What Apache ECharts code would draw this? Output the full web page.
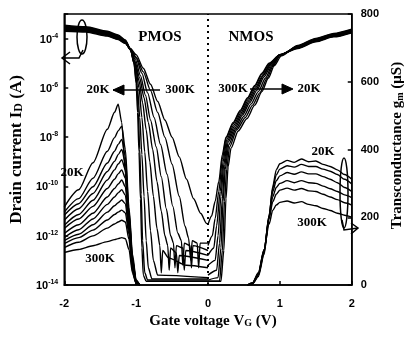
<!DOCTYPE html>
<html><head><meta charset="utf-8">
<script src="https://cdn.jsdelivr.net/npm/echarts@6/dist/echarts.min.js"></script>
<style>html,body{margin:0;padding:0;background:#fff}#main{width:413px;height:337px}</style>
</head><body><div id="main"></div>
<script>
// ---- axis ticks ----
const xTicks = [-2, -1, 0, 1, 2];
const idExpTicks = [-14, -12, -10, -8, -6, -4];   // log10(Id) tick exponents
const gmTicks = [0, 200, 400, 600, 800];

// ---- PMOS drain current, [Vg, log10(Id/A)], 20K ... 300K ----
const pmosId = [
 [[-2,-3.45],[-1.7,-3.52],[-1.4,-3.7],[-1.25,-3.85],[-1.15,-4.05],[-1.08,-4.4],[-1.03,-5.0],[-1.0,-5.8],[-0.98,-7.0],[-0.96,-8.6],[-0.94,-10.5],[-0.92,-12.5],[-0.9,-13.6],[-0.86,-13.85],[0,-13.85]],
 [[-2,-3.48],[-1.7,-3.55],[-1.4,-3.73],[-1.25,-3.88],[-1.15,-4.08],[-1.08,-4.42],[-1.03,-5.0],[-0.99,-5.9],[-0.97,-7.0],[-0.95,-8.5],[-0.93,-10.3],[-0.91,-12.2],[-0.88,-13.5],[-0.84,-13.8],[0,-13.8]],
 [[-2,-3.5],[-1.7,-3.57],[-1.4,-3.75],[-1.25,-3.9],[-1.15,-4.1],[-1.08,-4.43],[-1.02,-5.05],[-0.98,-6.0],[-0.95,-7.2],[-0.92,-8.7],[-0.89,-10.4],[-0.86,-12.2],[-0.83,-13.3],[-0.78,-13.75],[0,-13.75]],
 [[-2,-3.53],[-1.7,-3.6],[-1.4,-3.77],[-1.25,-3.92],[-1.15,-4.12],[-1.08,-4.45],[-1.01,-5.1],[-0.96,-6.0],[-0.92,-7.2],[-0.88,-8.6],[-0.84,-10.2],[-0.8,-11.8],[-0.76,-13.0],[-0.7,-13.6],[0,-13.7]],
 [[-2,-3.55],[-1.7,-3.62],[-1.4,-3.79],[-1.25,-3.94],[-1.15,-4.14],[-1.08,-4.45],[-1.02,-4.95],[-0.96,-5.7],[-0.91,-6.6],[-0.86,-7.7],[-0.81,-9.0],[-0.76,-10.4],[-0.71,-11.7],[-0.67,-12.4],[-0.65,-13.5],[-0.63,-12.6],[-0.55,-12.9],[-0.3,-13.2],[0,-13.3]],
 [[-2,-3.58],[-1.7,-3.64],[-1.4,-3.81],[-1.25,-3.96],[-1.15,-4.15],[-1.08,-4.45],[-1.02,-4.9],[-0.95,-5.6],[-0.89,-6.4],[-0.83,-7.4],[-0.77,-8.5],[-0.71,-9.8],[-0.65,-11.0],[-0.6,-12.0],[-0.56,-12.4],[-0.54,-13.4],[-0.52,-12.5],[-0.44,-12.7],[-0.42,-13.5],[-0.4,-12.8],[0,-13.0]],
 [[-2,-3.6],[-1.7,-3.66],[-1.4,-3.83],[-1.25,-3.98],[-1.15,-4.16],[-1.08,-4.44],[-1.01,-4.85],[-0.94,-5.5],[-0.87,-6.3],[-0.8,-7.3],[-0.72,-8.4],[-0.65,-9.6],[-0.58,-10.9],[-0.52,-12.0],[-0.48,-12.3],[-0.46,-13.3],[-0.44,-12.4],[-0.35,-12.5],[-0.33,-13.4],[-0.31,-12.6],[0,-12.8]],
 [[-2,-3.63],[-1.7,-3.68],[-1.4,-3.85],[-1.25,-4.0],[-1.15,-4.17],[-1.08,-4.43],[-1.0,-4.8],[-0.92,-5.4],[-0.84,-6.2],[-0.75,-7.2],[-0.66,-8.3],[-0.57,-9.5],[-0.49,-10.8],[-0.42,-11.9],[-0.37,-12.2],[-0.35,-13.2],[-0.33,-12.3],[-0.25,-12.4],[-0.23,-13.3],[-0.21,-12.4],[0,-12.6]],
 [[-2,-3.66],[-1.7,-3.7],[-1.4,-3.87],[-1.25,-4.02],[-1.15,-4.18],[-1.08,-4.42],[-1.0,-4.75],[-0.9,-5.35],[-0.8,-6.1],[-0.7,-7.0],[-0.6,-8.0],[-0.5,-9.1],[-0.4,-10.4],[-0.32,-11.6],[-0.27,-12.1],[-0.24,-13.0],[-0.22,-12.2],[-0.15,-12.3],[-0.13,-13.3],[-0.11,-12.3],[0,-12.3]],
 [[-2,-3.7],[-1.7,-3.73],[-1.4,-3.9],[-1.25,-4.04],[-1.15,-4.2],[-1.08,-4.4],[-1.0,-4.65],[-0.9,-5.2],[-0.8,-5.85],[-0.7,-6.55],[-0.6,-7.3],[-0.5,-8.0],[-0.4,-8.8],[-0.3,-9.7],[-0.2,-10.5],[-0.1,-11.1],[-0.02,-11.5],[0,-11.55]]
];

// ---- NMOS drain current, [Vg, log10(Id/A)], 300K ... 20K ----
const nmosId = [
 [[0,-11.55],[0.05,-11.2],[0.1,-10.6],[0.15,-9.8],[0.2,-8.7],[0.25,-8.0],[0.35,-7.4],[0.45,-6.9],[0.55,-6.4],[0.65,-5.9],[0.75,-5.4],[0.85,-5.0],[1.0,-4.65],[1.25,-4.4],[1.5,-4.13],[1.75,-3.93],[2.0,-3.76]],
 [[0,-12.4],[0.06,-12.0],[0.1,-11.3],[0.15,-10.2],[0.2,-8.9],[0.25,-8.05],[0.35,-7.45],[0.45,-6.95],[0.55,-6.45],[0.65,-5.95],[0.75,-5.45],[0.85,-5.02],[1.0,-4.65],[1.25,-4.38],[1.5,-4.11],[1.75,-3.91],[2.0,-3.74]],
 [[0,-12.8],[0.08,-12.5],[0.12,-11.6],[0.17,-10.2],[0.21,-9.0],[0.26,-8.1],[0.36,-7.5],[0.46,-7.0],[0.56,-6.5],[0.66,-6.0],[0.76,-5.5],[0.86,-5.05],[1.0,-4.65],[1.25,-4.37],[1.5,-4.09],[1.75,-3.89],[2.0,-3.72]],
 [[0,-13.2],[0.1,-13.0],[0.14,-12.0],[0.18,-10.4],[0.22,-9.1],[0.27,-8.15],[0.37,-7.55],[0.47,-7.05],[0.57,-6.55],[0.67,-6.05],[0.77,-5.5],[0.87,-5.05],[1.0,-4.66],[1.25,-4.35],[1.5,-4.07],[1.75,-3.87],[2.0,-3.7]],
 [[0,-13.6],[0.12,-13.4],[0.16,-12.3],[0.2,-10.5],[0.23,-9.2],[0.28,-8.2],[0.38,-7.6],[0.48,-7.1],[0.58,-6.6],[0.68,-6.1],[0.78,-5.55],[0.88,-5.08],[1.0,-4.67],[1.25,-4.33],[1.5,-4.05],[1.75,-3.85],[2.0,-3.68]],
 [[0,-13.8],[0.14,-13.7],[0.18,-12.5],[0.21,-10.6],[0.24,-9.3],[0.29,-8.3],[0.39,-7.65],[0.5,-7.15],[0.6,-6.65],[0.7,-6.15],[0.8,-5.6],[0.89,-5.1],[1.0,-4.68],[1.25,-4.31],[1.5,-4.03],[1.75,-3.83],[2.0,-3.66]],
 [[0,-13.85],[0.16,-13.85],[0.2,-12.6],[0.23,-10.6],[0.26,-9.3],[0.3,-8.4],[0.4,-7.7],[0.52,-7.2],[0.62,-6.7],[0.72,-6.2],[0.82,-5.62],[0.9,-5.12],[1.0,-4.7],[1.25,-4.3],[1.5,-4.01],[1.75,-3.81],[2.0,-3.64]],
 [[0,-13.85],[0.18,-13.85],[0.22,-12.6],[0.25,-10.5],[0.28,-9.2],[0.32,-8.45],[0.42,-7.75],[0.54,-7.25],[0.65,-6.7],[0.75,-6.15],[0.84,-5.6],[0.92,-5.1],[1.02,-4.7],[1.25,-4.28],[1.5,-3.99],[1.75,-3.79],[2.0,-3.62]]
];

// ---- PMOS transconductance (uS), 20K ... 300K ----
const pmosGmV = [-2, -1.8, -1.6, -1.4, -1.3, -1.25, -1.2, -1.15, -1.1, -1.05, -1.0, -0.95];
const pmosGm = [
 [230, 281, 361, 460, 510, 534, 480, 330, 170, 60, 10, 0],
 [215, 255, 315, 395, 435, 455, 469, 400, 230, 90, 15, 0],
 [206, 240, 290, 360, 395, 415, 430, 380, 220, 80, 12, 0],
 [191, 225, 270, 335, 365, 385, 400, 360, 210, 75, 10, 0],
 [176, 208, 250, 310, 340, 357, 370, 340, 200, 70, 10, 0],
 [167, 195, 232, 285, 312, 328, 340, 315, 190, 65, 8, 0],
 [152, 178, 212, 260, 285, 298, 310, 290, 180, 60, 8, 0],
 [140, 163, 195, 238, 260, 272, 281, 265, 170, 55, 7, 0],
 [131, 150, 178, 215, 234, 243, 251, 240, 160, 50, 6, 0],
 [122, 140, 162, 192, 208, 215, 221, 213, 150, 45, 5, 0],
 [110, 126, 145, 168, 180, 186, 191, 186, 135, 40, 5, 0],
 [96, 105, 116, 128, 134, 137, 140, 137, 105, 35, 4, 0]
];

// ---- NMOS transconductance (uS), 20K ... 300K ----
const nmosGmV = [0.55, 0.62, 0.7, 0.78, 0.85, 0.9, 0.95, 1.0, 1.1, 1.2, 1.3, 1.4, 1.5, 1.6, 1.7, 1.8, 1.9, 2.0];
const nmosGm = [
 [0, 3, 25, 90, 200, 290, 340, 358, 368, 362, 372, 364, 366, 356, 350, 340, 326, 312],
 [0, 4, 28, 95, 205, 285, 325, 342, 352, 348, 356, 350, 350, 342, 336, 326, 312, 298],
 [0, 5, 30, 100, 205, 275, 308, 322, 332, 327, 334, 328, 328, 320, 312, 302, 288, 276],
 [0, 5, 32, 102, 200, 260, 288, 300, 308, 302, 308, 302, 300, 292, 284, 276, 266, 258],
 [0, 6, 34, 104, 195, 245, 268, 280, 286, 280, 285, 278, 276, 268, 260, 252, 243, 236],
 [0, 7, 36, 105, 180, 220, 236, 244, 248, 242, 246, 238, 234, 226, 220, 212, 206, 200]
];

const SERIF = '"Liberation Serif","DejaVu Serif",serif';
const SANS = '"Liberation Sans",Arial,sans-serif';
const line = (data, yIdx, w) => ({
  type: 'line', data, yAxisIndex: yIdx, showSymbol: false, symbol: 'none',
  smooth: 0.25, smoothMonotone: 'x', lineStyle: {color: '#000', width: w}, silent: true, z: 3
});

const series = [];
pmosId.forEach(c => series.push(line(c, 0, 1.4)));
nmosId.forEach(c => series.push(line(c, 0, 1.4)));
pmosGm.forEach(c => series.push(line(pmosGmV.map((v, i) => [v, c[i]]), 1, 1.4)));
nmosGm.forEach(c => series.push(line(nmosGmV.map((v, i) => [v, c[i]]), 1, 1.4)));
series[0].markLine = {
  silent: true, symbol: 'none', label: {show: false},
  lineStyle: {color: '#000', width: 2, type: [2, 4]},
  data: [{xAxis: 0}]
};

const tickLabelStyle = {color: '#000', fontFamily: SANS, fontWeight: 'bold', fontSize: 11};
const nameRich = (size) => ({
  t: {fontFamily: SERIF, fontWeight: 'bold', fontSize: size, color: '#000'},
  s: {fontFamily: SERIF, fontWeight: 'bold', fontSize: Math.round(size * 0.68), color: '#000', padding: [5, 0, 0, 0]}
});

const option = {
  animation: false,
  backgroundColor: '#fff',
  grid: {left: 57, right: 47, top: 14, bottom: 52, show: true, borderColor: '#000', borderWidth: 1.5, backgroundColor: 'transparent'},
  xAxis: {
    type: 'value', min: xTicks[0], max: xTicks[xTicks.length - 1], interval: 1,
    axisLine: {onZero: false, lineStyle: {color: '#000', width: 1.5}},
    axisTick: {inside: true, length: 4, lineStyle: {color: '#000', width: 1.5}},
    axisLabel: Object.assign({margin: 13}, tickLabelStyle),
    splitLine: {show: false},
    name: '{t|Gate voltage V}{s|G}{t| (V)}', nameLocation: 'middle', nameGap: 25,
    nameTextStyle: {rich: nameRich(15), padding: [0, 0, 0, 10]}
  },
  yAxis: [{
    type: 'value', position: 'left', min: idExpTicks[0], max: -3, interval: 2,
    axisLine: {onZero: false, lineStyle: {color: '#000', width: 1.5}},
    axisTick: {inside: true, length: 4, lineStyle: {color: '#000', width: 1.5}},
    axisLabel: {
      margin: 6,
      formatter: v => idExpTicks.indexOf(v) >= 0 ? '{b|10}{s|' + v + '}' : '',
      rich: {
        b: {fontFamily: SANS, fontWeight: 'bold', fontSize: 11, color: '#000', verticalAlign: 'bottom'},
        s: {fontFamily: SANS, fontWeight: 'bold', fontSize: 7, color: '#000', verticalAlign: 'bottom', padding: [0, 0, 6, 0]}
      }
    },
    splitLine: {show: false},
    name: '{t|Drain current I}{s|D}{t| (A)}', nameLocation: 'middle', nameRotate: 90, nameGap: 27,
    nameTextStyle: {rich: nameRich(17)}
  }, {
    type: 'value', position: 'right', min: gmTicks[0], max: gmTicks[gmTicks.length - 1], interval: 200,
    axisLine: {onZero: false, lineStyle: {color: '#000', width: 1.5}},
    axisTick: {inside: true, length: 4, lineStyle: {color: '#000', width: 1.5}},
    axisLabel: Object.assign({margin: 9}, tickLabelStyle),
    splitLine: {show: false},
    name: '{t|Transconductance g}{s|m}{t| (μS)}', nameLocation: 'middle', nameRotate: 90, nameGap: 34,
    nameTextStyle: {rich: nameRich(15), padding: [0, 0, 0, 8]}
  }],
  series
};

const chart = echarts.init(document.getElementById('main'), null, {renderer: 'canvas'});
chart.setOption(option);

// ---- annotations ----
const txt = (x, y, s, size) => ({
  type: 'text', x, y, silent: true, z: 10,
  style: {text: s, fill: '#000', font: 'bold ' + size + 'px ' + SERIF, align: 'center', verticalAlign: 'middle'}
});
const poly = (pts) => ({type: 'polyline', silent: true, z: 10, shape: {points: pts}, style: {stroke: '#000', lineWidth: 1.5, fill: null}});
const head = (pts) => ({type: 'polygon', silent: true, z: 10, shape: {points: pts}, style: {fill: '#000', stroke: '#000', lineWidth: 1}});

chart.setOption({graphic: [
  txt(160, 37, 'PMOS', 15), txt(251, 37, 'NMOS', 15),
  txt(98, 90, '20K', 13), txt(180, 90, '300K', 13),
  poly([[113, 90], [160, 90]]), head([[113, 90], [124, 85], [124, 95]]),
  txt(233, 89, '300K', 13), txt(309, 89, '20K', 13),
  poly([[250, 89], [290, 89]]), head([[293, 89], [282, 84], [282, 94]]),
  txt(72, 173, '20K', 13), txt(100, 259, '300K', 13),
  txt(323, 152, '20K', 13), txt(312, 223, '300K', 13),
  {type: 'ellipse', silent: true, z: 10, shape: {cx: 82, cy: 37, rx: 5, ry: 17}, style: {stroke: '#000', lineWidth: 1.5, fill: null}},
  poly([[83, 50], [79, 58], [62, 58]]), poly([[70, 52], [62, 58], [70, 64]]),
  {type: 'ellipse', silent: true, z: 10, shape: {cx: 344, cy: 193, rx: 4, ry: 35}, style: {stroke: '#000', lineWidth: 1.5, fill: null}},
  poly([[342, 220], [344, 230], [358, 228]]), poly([[351, 223], [358, 228], [351, 234]])
]});
</script>
</body></html>
